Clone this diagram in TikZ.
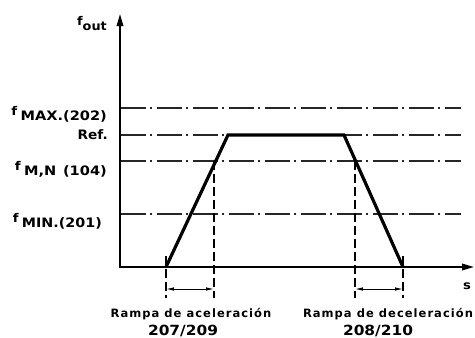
\documentclass[tikz,border=0pt]{standalone}
\usepackage{fontspec}
\usepackage{graphicx}
\usetikzlibrary{arrows.meta}
\newfontfamily\cad{DejaVu Sans}
\newfontfamily\cadls[LetterSpace=9]{DejaVu Sans}
\newcommand\stx[2]{\scalebox{#1}[1]{#2}}
\tikzset{
  axisline/.style={line width=1.8pt, line join=miter, {Triangle[length=12pt,width=6.5pt]}-{Triangle[length=12pt,width=6.5pt]}},
  refline/.style={line width=1.1pt, black!85, dash pattern=on 25pt off 4pt on 2pt off 5pt},
  ramp/.style={line width=3.2pt, line join=miter},
  guide/.style={line width=1.1pt, dash pattern=on 9pt off 4pt},
  span/.style={line width=0.9pt, {Latex[length=8pt,width=3.5pt]}-{Latex[length=8pt,width=3.5pt]}},
  lbl/.style={inner sep=0pt, font=\cad\bfseries\fontsize{13}{13}\selectfont},
  blbl/.style={inner sep=0pt, font=\cadls\bfseries\fontsize{11.5}{11.5}\selectfont, anchor=base},
  nlbl/.style={inner sep=0pt, font=\cad\bfseries\fontsize{14}{14}\selectfont, anchor=base},
}
\newcommand\fsym{\raisebox{5pt}{\fontsize{12}{12}\selectfont f}}
\begin{document}
\begin{tikzpicture}[x=1pt,y=-1pt]
\useasboundingbox (0,0) rectangle (475,338);
% axes
\coordinate (O) at (120,267);
\coordinate (Ytop) at (120,14);
\coordinate (Xend) at (474,267);
% reference lines
\coordinate (maxL) at (121,108); \coordinate (maxR) at (461,108);
\coordinate (refL) at (121,135); \coordinate (refR) at (461,135);
\coordinate (mnL) at (121,161);  \coordinate (mnR) at (461,161);
\coordinate (minL) at (121,214); \coordinate (minR) at (461,214);
\draw[refline] (maxL) -- (maxR);
\draw[refline] (refL) -- (refR);
\draw[refline] (mnL) -- (mnR);
\draw[refline] (minL) -- (minR);
% guides
\coordinate (g1t) at (166,256); \coordinate (g1b) at (166,298);
\coordinate (g2t) at (214,161); \coordinate (g2b) at (214,298);
\coordinate (g3t) at (355,161); \coordinate (g3b) at (355,298);
\coordinate (g4t) at (403,256); \coordinate (g4b) at (403,298);
\draw[guide] (g1t) -- (g1b);
\draw[guide] (g2t) -- (g2b);
\draw[guide] (g3t) -- (g3b);
\draw[guide] (g4t) -- (g4b);
% spans
\coordinate (s1a) at (166,289); \coordinate (s1b) at (214,289);
\coordinate (s2a) at (355,289); \coordinate (s2b) at (403,289);
\draw[span] (s1a) -- (s1b);
\draw[span] (s2a) -- (s2b);
% axes drawn
\draw[axisline] (Ytop) -- (O) -- (Xend);
% ramp profile
\coordinate (A) at (166,267);
\coordinate (B) at (228,135);
\coordinate (C) at (344,135);
\coordinate (D) at (403,267);
\draw[ramp] (A) -- (B) -- (C) -- (D);
% labels
\node[lbl, font=\cad\bfseries\fontsize{12}{12}\selectfont, anchor=base east] (fout) at (107,25) {\stx{1.07}{f\raisebox{-5pt}{out}}};
\node[lbl, anchor=base east] (fmax) at (107,120) {\stx{1.12}{\fsym\hspace{3pt}MAX.(202)}};
\node[lbl, anchor=base east] (ref) at (108,139) {\stx{1.05}{Ref.}};
\node[lbl, anchor=base east] (fmn) at (107,175) {\stx{1.12}{\fsym\hspace{3pt}M,N\hspace{6pt}(104)}};
\node[lbl, anchor=base east] (fmin) at (102,227) {\stx{1.1}{\fsym\hspace{3pt}MIN.(201)}};
\node[lbl, font=\cad\bfseries\fontsize{12}{12}\selectfont, anchor=base] (s) at (467,289) {\stx{1.1}{s}};
\node[blbl] (acc) at (191,317) {Rampa de aceleración};
\node[nlbl] (accn) at (183,335) {\stx{1.1}{207/209}};
\node[blbl] (dec) at (388,317) {Rampa de deceleración};
\node[nlbl] (decn) at (378,335) {\stx{1.1}{208/210}};
\end{tikzpicture}
\end{document}
